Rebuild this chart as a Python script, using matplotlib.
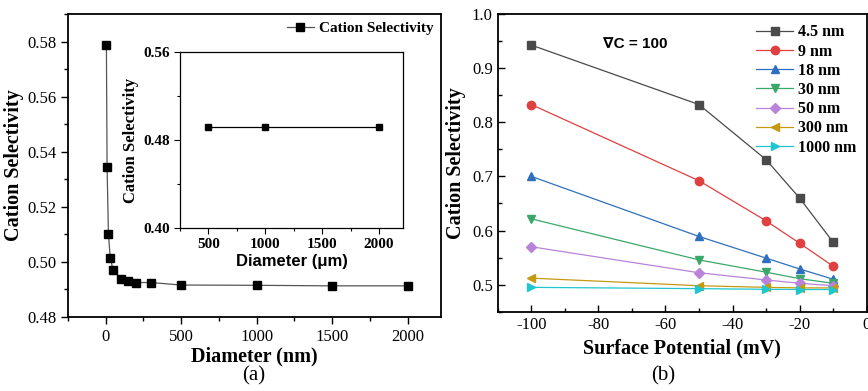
import numpy as np
import matplotlib
matplotlib.use('Agg')
import matplotlib.pyplot as plt
from matplotlib.ticker import MultipleLocator

plt.rcParams['font.family'] = ['Liberation Serif', 'DejaVu Serif']
plt.rcParams['axes.unicode_minus'] = False

# (a) cation selectivity vs pore diameter
diam_nm = [4.5, 9, 18, 30, 50, 100, 150, 200, 300, 500, 1000, 1500, 2000]
sel_nm = [0.5788, 0.5345, 0.5102, 0.5014, 0.4969, 0.4939, 0.4929, 0.4925,
          0.4925, 0.4916, 0.4915, 0.4913, 0.4913]
# inset, micrometre pores
diam_um = [500, 1000, 2000]
sel_um = [0.4915, 0.4915, 0.4915]

# (b) cation selectivity vs surface potential
potential = [-100, -50, -30, -20, -10]
series_labels = ['4.5 nm', '9 nm', '18 nm', '30 nm', '50 nm', '300 nm', '1000 nm']
series_values = [
    [0.9426, 0.8327, 0.7309, 0.6599, 0.5784],
    [0.8327, 0.6920, 0.6179, 0.5765, 0.5340],
    [0.7000, 0.5890, 0.5490, 0.5290, 0.5100],
    [0.6216, 0.5457, 0.5230, 0.5110, 0.5025],
    [0.5700, 0.5220, 0.5086, 0.5025, 0.4980],
    [0.5120, 0.4980, 0.4950, 0.4940, 0.4940],
    [0.4950, 0.4926, 0.4914, 0.4910, 0.4910],
]
series_colors = ['#4a4a4a', '#e0403f', '#2f6fc0', '#3aa86a', '#b883d8', '#c49a12', '#1fc6d0']
series_markers = ['s', 'o', '^', 'v', 'D', '<', '>']

fig = plt.figure(figsize=(8.68, 3.91), dpi=100)

# ---- panel (a)
ax1 = fig.add_axes([0.0783, 0.1893, 0.4297, 0.775])
ax1.plot(diam_nm, sel_nm, color='#555555', lw=0.9, marker='s', ms=6,
         mfc='black', mec='black', label='Cation Selectivity')
ax1.set_xlim(-250, 2220)
ax1.set_ylim(0.48, 0.59)
ax1.xaxis.set_major_locator(MultipleLocator(500))
ax1.xaxis.set_minor_locator(MultipleLocator(250))
ax1.yaxis.set_major_locator(MultipleLocator(0.02))
ax1.yaxis.set_minor_locator(MultipleLocator(0.01))
ax1.yaxis.set_major_formatter(plt.FormatStrFormatter('%.2f'))
ax1.tick_params(which='major', direction='out', length=5, width=1, labelsize=12)
ax1.tick_params(which='minor', direction='out', length=3, width=1)
for s in ax1.spines.values():
    s.set_linewidth(1.3)
ax1.set_xlabel('Diameter (nm)', fontsize=14.5, fontweight='bold', labelpad=1)
ax1.set_ylabel('Cation Selectivity', fontsize=14.5, fontweight='bold', labelpad=2)
ax1.legend(loc='upper right', bbox_to_anchor=(1.0, 1.0), frameon=False,
           prop={'weight': 'bold', 'size': 11}, handlelength=1.8,
           handletextpad=0.3, borderaxespad=0.1)

# inset
axi = fig.add_axes([0.2074, 0.4169, 0.2569, 0.450])
axi.plot(diam_um, sel_um, color='black', lw=0.9, marker='s', ms=4.5,
         mfc='black', mec='black')
axi.set_xlim(250, 2210)
axi.set_ylim(0.40, 0.56)
axi.xaxis.set_major_locator(MultipleLocator(500))
axi.xaxis.set_minor_locator(MultipleLocator(250))
axi.yaxis.set_major_locator(MultipleLocator(0.08))
axi.yaxis.set_minor_locator(MultipleLocator(0.04))
axi.yaxis.set_major_formatter(plt.FormatStrFormatter('%.2f'))
axi.tick_params(which='major', direction='out', length=4, width=0.8, labelsize=11)
axi.tick_params(which='minor', direction='out', length=2.5, width=0.8)
for lab in axi.get_xticklabels() + axi.get_yticklabels():
    lab.set_fontweight('bold')
for s in axi.spines.values():
    s.set_linewidth(0.9)
axi.set_xlabel('Diameter (\u03bcm)', fontsize=12, fontweight='bold',
               family=['Liberation Sans', 'DejaVu Sans'], labelpad=2)
axi.set_ylabel('Cation Selectivity', fontsize=12, fontweight='bold', labelpad=3)

# ---- panel (b)
ax2 = fig.add_axes([0.5734, 0.2028, 0.4251, 0.7614])
for vals, lab, c, m in zip(series_values, series_labels, series_colors, series_markers):
    ax2.plot(potential, vals, color=c, lw=0.9, marker=m, ms=6 if m != 'D' else 5,
             mfc=c, mec=c, label=lab)
ax2.set_xlim(-110, 0)
ax2.set_ylim(0.45, 1.0)
ax2.xaxis.set_major_locator(MultipleLocator(20))
ax2.xaxis.set_minor_locator(MultipleLocator(10))
ax2.yaxis.set_major_locator(MultipleLocator(0.1))
ax2.yaxis.set_minor_locator(MultipleLocator(0.05))
ax2.tick_params(which='major', direction='in', length=5, width=1, labelsize=12)
ax2.tick_params(which='minor', direction='in', length=3, width=1)
for s in ax2.spines.values():
    s.set_linewidth(1.3)
ax2.set_xlabel('Surface Potential (mV)', fontsize=14.5, fontweight='bold', labelpad=4)
ax2.set_ylabel('Cation Selectivity', fontsize=14.5, fontweight='bold', labelpad=4)
ax2.text(0.285, 0.9, '\u2207C = 100', transform=ax2.transAxes, fontsize=11,
         fontweight='bold', family=['Liberation Sans', 'DejaVu Sans'], ha='left', va='center')
ax2.legend(loc='upper right', bbox_to_anchor=(1.0, 1.0), frameon=False,
           prop={'weight': 'bold', 'size': 11.5}, handlelength=2.3,
           handletextpad=0.3, labelspacing=0.2, borderaxespad=0.25)

fig.text(0.292, 0.04, '(a)', fontsize=15, ha='center', va='center')
fig.text(0.764, 0.04, '(b)', fontsize=15, ha='center', va='center')

fig.savefig('out.png', dpi=100)
